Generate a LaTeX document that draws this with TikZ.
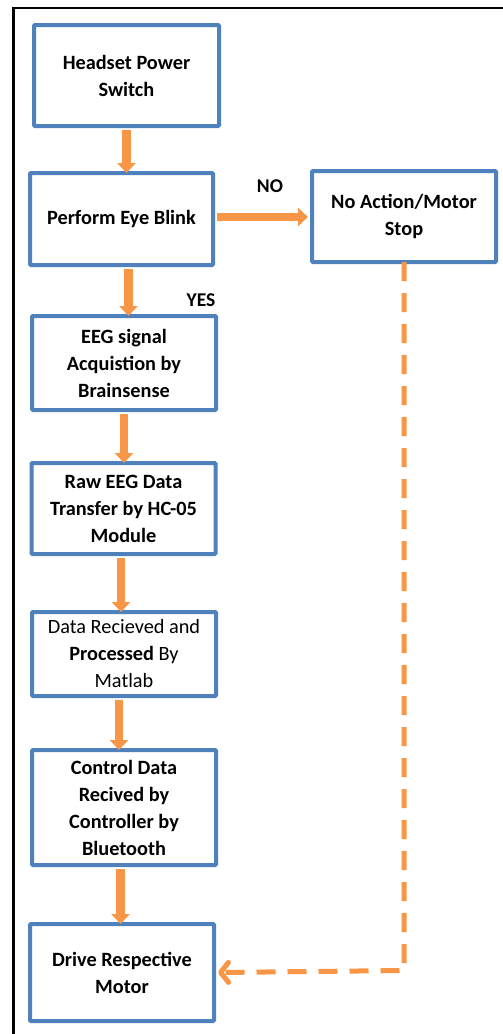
\documentclass[tikz,border=0pt]{standalone}
\usepackage{fontspec}
\setmainfont{Carlito}
\usetikzlibrary{arrows.meta}
\definecolor{boxblue}{HTML}{4F81BD}
\definecolor{arrorange}{HTML}{F79646}
\begin{document}
\begin{tikzpicture}[x=1pt,y=-1pt,
  flowbox/.style={draw=boxblue, line width=4pt, fill=white, rectangle, rounded corners=1pt, align=center,
    font=\fontsize{20.3}{27}\selectfont\bfseries, inner sep=0pt},
  arr/.style={draw=arrorange, line width=8.5pt, -{Triangle[length=10pt,width=18pt]}},
  dasharr/.style={draw=arrorange, line width=5pt, dash pattern=on 19pt off 12pt, line join=round,
    -{Straight Barb[length=8pt,width=20pt,line width=5pt,round]}},
  lbl/.style={font=\fontsize{19.5}{22}\selectfont\bfseries, inner sep=0pt}]
\useasboundingbox (0,0) rectangle (503,1034);
\fill[white] (0,0) rectangle (503,1034);
\coordinate (frTR) at (503,8);
\coordinate (frTL) at (13.5,8);
\coordinate (frBL) at (13.5,1034);
\draw[line width=2.5pt, black] (frTR) -- (frTL) -- (frBL);

\node[flowbox, minimum width=185pt, minimum height=101pt] (b1) at (126.5,75.5) {Headset Power\\Switch};
\node[flowbox, minimum width=183pt, minimum height=92pt] (b2) at (121.5,219) {Perform Eye Blink};
\node[flowbox, minimum width=184pt, minimum height=91pt] (b3) at (404,216.5) {No Action/Motor\\Stop};
\node[flowbox, minimum width=184pt, minimum height=94pt] (b4) at (124,363) {EEG signal\\Acquistion by\\Brainsense};
\node[flowbox, minimum width=184pt, minimum height=91pt] (b5) at (123.5,508.5) {Raw EEG Data\\Transfer by HC-05\\Module};
\node[flowbox, minimum width=184pt, minimum height=84pt, font=\fontsize{20.3}{27}\selectfont] (b6) at (124,654) {Data Recieved and\\\textbf{Processed} By\\Matlab};
\node[flowbox, minimum width=184pt, minimum height=115pt] (b7) at (124,807.5) {Control Data\\Recived by\\Controller by\\Bluetooth};
\node[flowbox, minimum width=184pt, minimum height=97pt] (b8) at (122,972.5) {Drive Respective\\Motor};

\node[lbl] (no) at (270,186) {NO};
\node[lbl] (yes) at (201,300) {YES};

\draw[arr] ([yshift=-2pt]b1.south) -- ([yshift=-2pt]b1.south |- b2.north);
\draw[arr] ([xshift=7pt,yshift=-2pt]b2.south) -- ([xshift=7pt,yshift=-2pt]b2.south |- b4.north);
\draw[arr] ([yshift=-2pt]b4.south) -- ([yshift=-2pt]b4.south |- b5.north);
\draw[arr] ([xshift=-2.5pt,yshift=-2pt]b5.south) -- ([xshift=-2.5pt,yshift=-2pt]b5.south |- b6.north);
\draw[arr] ([xshift=-5pt,yshift=-2pt]b6.south) -- ([xshift=-5pt,yshift=-2pt]b6.south |- b7.north);
\draw[arr] ([xshift=-3.5pt,yshift=-2pt]b7.south) -- ([xshift=-3.5pt,yshift=-2pt]b7.south |- b8.north);
\draw[arr] ([xshift=2pt,yshift=2pt]b2.east) -- ([xshift=-2pt,yshift=2pt]b2.east -| b3.west);

\draw[dasharr] ([yshift=2pt]b3.south) -- ([yshift=2pt]b3.south |- b8.east) -- ([xshift=2pt]b8.east);
\end{tikzpicture}
\end{document}
